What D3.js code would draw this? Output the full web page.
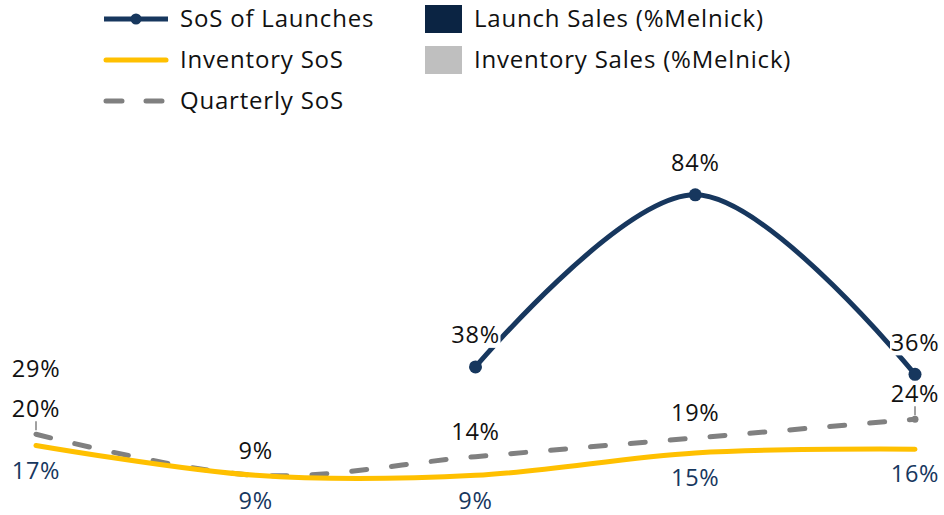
<!DOCTYPE html>
<html lang="en">
<head>
<meta charset="UTF-8">
<title>SoS chart</title>
<script src="https://d3js.org/d3.v7.min.js"></script>
<style>
    body { margin: 0; background: #fff; }
    svg text { font-family: "Open Sans", Lato, sans-serif; letter-spacing: 0.8px; }
</style>
</head>
<body>
<svg id="chart" width="944" height="515"></svg>
<script>

// data
const periods = ['P1', 'P2', 'P3', 'P4', 'P5'];
const launchSoS = [29, null, 38, 84, 36];
const inventorySoS = [17, 9, 9, 15, 16];
const quarterlySoS = [20, 9, 14, 19, 24];

const legendItems = ['SoS of Launches', 'Inventory SoS', 'Quarterly SoS',
    'Launch Sales (%Melnick)', 'Inventory Sales (%Melnick)'];

const navy = '#17375e', yellow = '#ffc000', gray = '#808080';

const svg = d3.select('#chart');

const x = d3.scalePoint().domain(periods).range([36, 915]);
const y = d3.scaleLinear().domain([0, 100]).range([509, 135]);

const curve = d3.curveCatmullRom.alpha(0.5);
const line = d3.line()
    .defined(d => d.v != null)
    .x(d => x(d.p))
    .y(d => y(d.v))
    .curve(curve);

const rows = vals => periods.map((p, i) => ({ p, v: vals[i], i }));

// quarterly (dashed gray)
svg.append('path')
    .datum(rows(quarterlySoS))
    .attr('d', line)
    .attr('fill', 'none')
    .attr('stroke', gray)
    .attr('stroke-width', 5)
    .attr('stroke-linecap', 'round')
    .attr('stroke-dasharray', '15,25');

// inventory (yellow)
svg.append('path')
    .datum(rows(inventorySoS))
    .attr('d', line)
    .attr('fill', 'none')
    .attr('stroke', yellow)
    .attr('stroke-width', 5)
    .attr('stroke-linecap', 'round');

// launches (navy) - only the connected part gets a line and markers
const launchRows = rows(launchSoS);
const connected = launchRows.filter((d, i) => d.v != null &&
    ((launchRows[i - 1] && launchRows[i - 1].v != null) || (launchRows[i + 1] && launchRows[i + 1].v != null)));

svg.append('path')
    .datum(launchRows)
    .attr('d', line)
    .attr('fill', 'none')
    .attr('stroke', navy)
    .attr('stroke-width', 5);

svg.selectAll('circle.launch')
    .data(connected)
    .enter()
    .append('circle')
    .attr('class', 'launch')
    .attr('cx', d => x(d.p))
    .attr('cy', d => y(d.v))
    .attr('r', 6.5)
    .attr('fill', navy);

// last quarterly point gets a small dot
const lastQ = rows(quarterlySoS)[periods.length - 1];
svg.append('circle')
    .attr('cx', x(lastQ.p))
    .attr('cy', y(lastQ.v))
    .attr('r', 3.5)
    .attr('fill', gray);

// labels
const fs = 23.5;
const fmt = v => v + '%';

// launch labels (above)
const launchLbl = svg.selectAll('g.llbl')
    .data(launchRows.filter(d => d.v != null))
    .enter()
    .append('g')
    .attr('class', 'llbl')
    .attr('transform', d => `translate(${x(d.p)},${y(d.v) - 32})`);
launchLbl.append('rect')
    .attr('x', -25).attr('y', -13).attr('width', 50).attr('height', 26)
    .attr('fill', '#fff');
launchLbl.append('text')
    .attr('text-anchor', 'middle')
    .attr('dy', '0.35em')
    .attr('font-size', fs)
    .attr('fill', '#111')
    .text(d => fmt(d.v));

// quarterly labels (above)
svg.selectAll('text.qlbl')
    .data(rows(quarterlySoS))
    .enter()
    .append('text')
    .attr('class', 'qlbl')
    .attr('x', d => x(d.p))
    .attr('y', d => y(d.v) - 25)
    .attr('dy', '0.35em')
    .attr('text-anchor', 'middle')
    .attr('font-size', fs)
    .attr('fill', '#111')
    .text(d => fmt(d.v));

// leader ticks for moved labels
[0, periods.length - 1].forEach(i => {
    const d = rows(quarterlySoS)[i];
    svg.append('line')
        .attr('x1', x(d.p)).attr('x2', x(d.p))
        .attr('y1', y(d.v) - 13).attr('y2', y(d.v) - 4)
        .attr('stroke', gray)
        .attr('stroke-width', 1.5);
});

// inventory labels (below)
svg.selectAll('text.ilbl')
    .data(rows(inventorySoS))
    .enter()
    .append('text')
    .attr('class', 'ilbl')
    .attr('x', d => x(d.p))
    .attr('y', d => y(d.v) + 25)
    .attr('dy', '0.35em')
    .attr('text-anchor', 'middle')
    .attr('font-size', fs)
    .attr('fill', navy)
    .text(d => fmt(d.v));

// legend
const lg = svg.append('g').attr('font-size', 24);
const rowY = [19, 60, 101];

lg.append('line').attr('x1', 104).attr('x2', 168).attr('y1', rowY[0]).attr('y2', rowY[0])
    .attr('stroke', navy).attr('stroke-width', 5);
lg.append('circle').attr('cx', 136).attr('cy', rowY[0]).attr('r', 5.5).attr('fill', navy);
lg.append('line').attr('x1', 106).attr('x2', 166).attr('y1', rowY[1]).attr('y2', rowY[1])
    .attr('stroke', yellow).attr('stroke-width', 5).attr('stroke-linecap', 'round');
lg.append('line').attr('x1', 106).attr('x2', 168).attr('y1', rowY[2]).attr('y2', rowY[2])
    .attr('stroke', gray).attr('stroke-width', 5).attr('stroke-linecap', 'round')
    .attr('stroke-dasharray', '16,24');

lg.append('rect').attr('x', 425).attr('y', 5).attr('width', 37).attr('height', 28).attr('fill', '#0b2443');
lg.append('rect').attr('x', 425).attr('y', 46).attr('width', 37).attr('height', 28).attr('fill', '#bfbfbf');

const legendPos = [[180, rowY[0]], [180, rowY[1]], [180, rowY[2]], [474, rowY[0]], [474, rowY[1]]];
lg.selectAll('text')
    .data(legendItems)
    .enter()
    .append('text')
    .attr('x', (d, i) => legendPos[i][0])
    .attr('y', (d, i) => legendPos[i][1])
    .attr('dy', '0.35em')
    .attr('fill', '#111')
    .text(d => d);

</script>
</body>
</html>
